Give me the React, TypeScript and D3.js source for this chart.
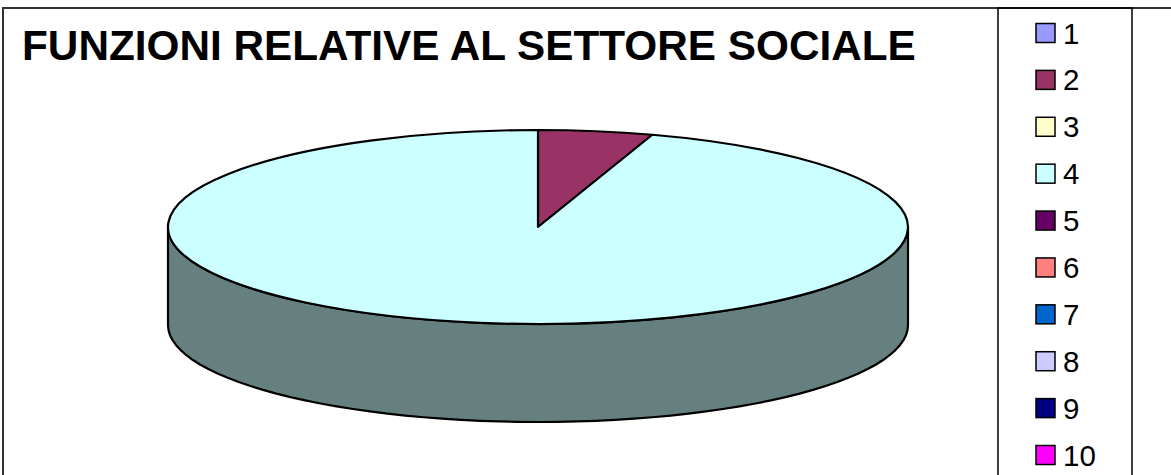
import React from 'react';
import * as d3 from 'd3';

const categories = ['1', '2', '3', '4', '5', '6', '7', '8', '9', '10'];
const values = [0, 1, 0, 19, 0, 0, 0, 0, 0, 0];
const colors = ['#9999FF', '#993366', '#FFFFCC', '#CCFFFF', '#660066', '#FF8080', '#0066CC', '#CCCCFF', '#000080', '#FF00FF'];
const title = 'FUNZIONI RELATIVE AL SETTORE SOCIALE';

const W = 1171;
const H = 475;
const cx = 538;
const cy = 227;
const rx = 370;
const ry = 97;
const depth = 98;

const ellipsePt = (t: number, dy = 0): [number, number] => [cx + rx * Math.sin(t), cy - ry * Math.cos(t) + dy];

// side wall of a slice, only the part facing the viewer (pi/2 .. 3pi/2)
const sidePath = (a0: number, a1: number) => {
    const s = Math.max(a0, Math.PI / 2);
    const e = Math.min(a1, (3 * Math.PI) / 2);
    if (e <= s) return null;
    const ts = d3.range(0, 61).map(i => s + ((e - s) * i) / 60);
    const top = ts.map(t => ellipsePt(t));
    const bottom = ts.slice().reverse().map(t => ellipsePt(t, depth));
    return d3.line()([...top, ...bottom]) + 'Z';
};

const darken = (c: string) => {
    const col = d3.rgb(c);
    return d3.rgb(col.r * 0.5, col.g * 0.5, col.b * 0.5).formatHex();
};

export default function App() {
    const pie = d3.pie<number>().sort(null).value(d => d);
    const arcs = pie(values);
    const arcGen = d3.arc<d3.PieArcDatum<number>>().innerRadius(0).outerRadius(rx);

    const legendY = d3.scalePoint<string>().domain(categories).range([33, 455]);

    return (
        <svg width={W} height={H} style={{ position: 'absolute', left: 0, top: 0, background: '#fff' }}
             fontFamily="'Liberation Sans', Arial, sans-serif">
            {/* chart frame */}
            <rect x={3} y={8} width={W + 10} height={H + 10} fill="none" stroke="#333" strokeWidth={2} />
            <rect x={998} y={8} width={134} height={H + 10} fill="none" stroke="#000" strokeWidth={1.5} />

            <text x={22} y={60} fontSize={42.3} fontWeight="bold" fill="#000">{title}</text>

            {/* sides */}
            {arcs.map((a, i) => {
                const p = sidePath(a.startAngle, a.endAngle);
                if (!p || a.value === 0) return null;
                return <path key={'s' + i} d={p} fill={darken(colors[i])} stroke="#000" strokeWidth={2.2} strokeLinejoin="round" />;
            })}

            {/* top */}
            <g transform={`translate(${cx},${cy}) scale(1,${ry / rx})`}>
                {arcs.map((a, i) => a.value === 0 ? null : (
                    <path key={'t' + i} d={arcGen(a) || ''} fill={colors[i]} stroke="#000" strokeWidth={2.2}
                          vectorEffect="non-scaling-stroke" strokeLinejoin="round" />
                ))}
            </g>

            {/* legend */}
            {categories.map((c, i) => {
                const y = legendY(c) as number;
                return (
                    <g key={'l' + i}>
                        <rect x={1036} y={y - 9.5} width={19} height={19} fill={colors[i]} stroke="#000" strokeWidth={1.5} />
                        <text x={1063} y={y + 10.5} fontSize={29.5} fill="#000">{c}</text>
                    </g>
                );
            })}
        </svg>
    );
}
